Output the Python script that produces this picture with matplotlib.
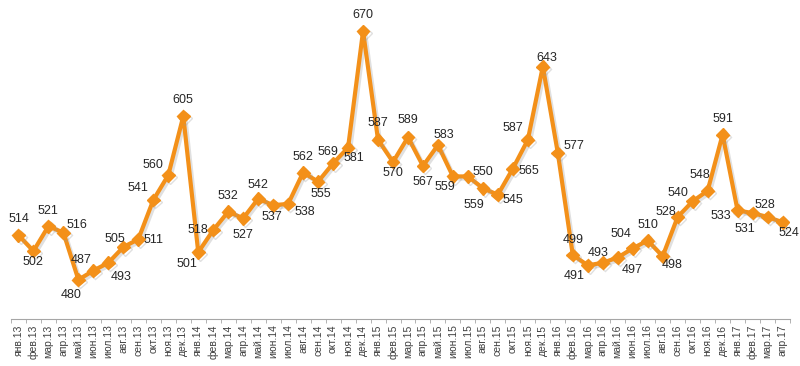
import numpy as np
import matplotlib
matplotlib.use("Agg")
import matplotlib.pyplot as plt
import matplotlib.patheffects as pe

plt.rcParams['font.family'] = ['Liberation Sans', 'DejaVu Sans']

# monthly values, янв.13 .. апр.17
months = ['янв', 'фев', 'мар', 'апр', 'май', 'июн',
          'июл', 'авг', 'сен', 'окт', 'ноя', 'дек']
years = ['13', '14', '15', '16', '17']
labels = [m + '.' + y for y in years for m in months][:52]

values = [514, 502, 521, 516, 480, 487, 493, 505, 511, 541, 560, 605,
          501, 518, 532, 527, 542, 537, 538, 562, 555, 569, 581, 670,
          587, 570, 589, 567, 583, 559, 559, 550, 545, 565, 587, 643,
          577, 499, 491, 493, 497, 504, 510, 498, 528, 540, 548, 591,
          533, 531, 528, 524]

# where each value label sits relative to its point (pixels, y up)
lbl_off = [(0, 16), (-1, -11), (0, 15), (14, 8), (-7, -15), (-12, 11),
           (13, -14), (-8, 8), (15, -1), (-15, 12), (-15, 10), (0, 16),
           (-11, -12), (-15, 0), (0, 16), (0, -17), (0, 14), (-1, -12),
           (17, -8), (0, 16), (3, -12), (-5, 11), (6, -10), (0, 16),
           (0, 17), (0, -11), (0, 17), (0, -16), (6, 10), (-8, -11),
           (6, -29), (0, 16), (15, -5), (16, -2), (-15, 12), (4, 9),
           (16, 7), (0, 15), (-14, -11), (-5, 10), (14, -12), (-12, 14),
           (0, 16), (9, -9), (-12, 5), (-15, 8), (-8, 16), (0, 16),
           (-17, -6), (-8, -16), (-3, 12), (6, -11)]

orange = '#F39019'

fig = plt.figure(figsize=(8, 3.66), dpi=100)
ax = fig.add_axes([11 / 800, 47 / 366, 779 / 800, 319 / 366])

x = np.arange(len(values))
shadow = [pe.SimpleLineShadow(offset=(1.5, -1.5), shadow_color='#999999', alpha=0.3), pe.Normal()]
ax.plot(x, values, color=orange, lw=3, marker='D', ms=6.5,
        markerfacecolor=orange, markeredgecolor=orange, path_effects=shadow, zorder=3)

for i, v in enumerate(values):
    dx, dy = lbl_off[i]
    ax.annotate(str(v), (i, v), xytext=(dx, dy), textcoords='offset pixels',
                ha='center', va='center', fontsize=9, color='#262626')

ax.set_xlim(-0.5, len(values) - 0.5)
ax.set_ylim(450, 450 + 319 / 1.308)

for s in ['top', 'right', 'left']:
    ax.spines[s].set_visible(False)
ax.spines['bottom'].set_color('#a6a6a6')
ax.set_yticks([])

ax.set_xticks(x)
ax.set_xticklabels(labels, rotation=90, fontsize=7.5, color='#404040')
ax.tick_params(axis='x', which='major', length=0, pad=4)
ax.set_xticks(np.arange(-0.5, len(values), 1), minor=True)
ax.tick_params(axis='x', which='minor', length=3, color='#a6a6a6')

fig.savefig('out.png', dpi=100)
